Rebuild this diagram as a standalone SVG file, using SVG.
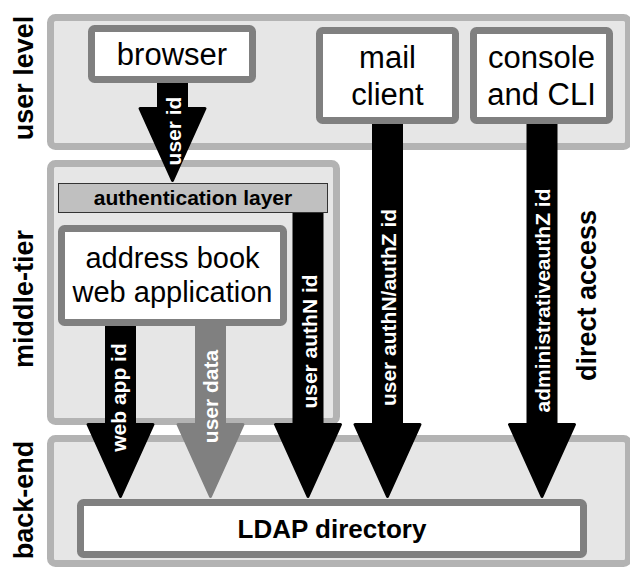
<svg xmlns="http://www.w3.org/2000/svg" width="630" height="568" viewBox="0 0 630 568">
<style>
.panel{fill:#e6e6e6;stroke:#b3b3b3;stroke-width:7}
.box{fill:#ffffff;stroke:#808080;stroke-width:7}
.t{font-family:"Liberation Sans",Arial,sans-serif;fill:#000;text-anchor:middle}
.big{font-size:31px}
.mid{font-size:29px}
.side{font-family:"Liberation Sans",Arial,sans-serif;font-weight:bold;font-size:27px;text-anchor:middle;fill:#000}
.arr{fill:#000;stroke:#000;stroke-width:3;stroke-linejoin:round}
.arrg{fill:#808080;stroke:#808080;stroke-width:3;stroke-linejoin:round}
.lab{font-family:"Liberation Sans",Arial,sans-serif;font-weight:bold;font-size:21px;fill:#fff;text-anchor:middle}
</style>
<rect width="630" height="568" fill="#fff"/>
<g id="panel-user-level">
<rect class="panel" x="50.5" y="17.5" width="578" height="129" rx="5"/>
<text class="side" transform="translate(33,78) rotate(-90)">user level</text>
</g>
<g id="panel-middle-tier">
<rect class="panel" x="50.5" y="163.5" width="286" height="258" rx="5"/>
<text class="side" transform="translate(33,299) rotate(-90)">middle-tier</text>
</g>
<g id="panel-back-end">
<rect class="panel" x="50.5" y="438.5" width="578" height="125" rx="5"/>
<text class="side" transform="translate(33,500) rotate(-90)">back-end</text>
</g>
<g id="connectors">
<path class="arr" d="M158.5,80 H186.5 V108.5 H205 L172.5,180.5 L140,108.5 H158.5 Z"/>
<text class="lab" transform="translate(181,131) rotate(-90)">user id</text>
<path class="arr" d="M106.5,323 H134.5 V424.5 H153 L120.5,496.5 L88,424.5 H106.5 Z"/>
<text class="lab" transform="translate(126,397.5) rotate(-90)">web app id</text>
<path class="arrg" d="M196.5,323 H224.5 V424.5 H243 L210.5,496.5 L178,424.5 H196.5 Z"/>
<text class="lab" transform="translate(218,396.5) rotate(-90)">user data</text>
<path class="arr" d="M294,210 H322 V424.5 H340.5 L308,496.5 L275.5,424.5 H294 Z"/>
<text class="lab" transform="translate(317,341.5) rotate(-90)">user authN id</text>
<path class="arr" d="M373.5,120 H401.5 V424.5 H420 L387.5,496.5 L355,424.5 H373.5 Z"/>
<text class="lab" transform="translate(395.5,307.5) rotate(-90)">user authN/authZ id</text>
<path class="arr" d="M528,120 H556 V424.5 H574.5 L542,496.5 L509.5,424.5 H528 Z"/>
<text class="lab" transform="translate(550,300.5) rotate(-90)">administrativeauthZ id</text>
</g>
<g id="label-direct-access">
<text class="side" transform="translate(596,295.5) rotate(-90)" font-size="26">direct access</text>
</g>
<g id="node-browser">
<rect class="box" x="91.5" y="28.5" width="161" height="51" rx="3"/>
<text class="t big" x="172" y="65">browser</text>
</g>
<g id="node-mail-client">
<rect class="box" x="319.5" y="30.5" width="136" height="90" rx="3"/>
<text class="t big" x="387.5" y="68">mail</text>
<text class="t big" x="387.5" y="105">client</text>
</g>
<g id="node-console">
<rect class="box" x="473.5" y="30.5" width="136" height="90" rx="3"/>
<text class="t big" x="541.5" y="68">console</text>
<text class="t big" x="541.5" y="105">and CLI</text>
</g>
<g id="node-auth-layer">
<rect x="58.5" y="183.5" width="269" height="29" fill="#c0c0c0" stroke="#333" stroke-width="1"/>
<text class="t" x="193" y="205" font-size="21" font-weight="bold">authentication layer</text>
</g>
<g id="node-address-book">
<rect class="box" x="61.5" y="228.5" width="222" height="94" rx="3"/>
<text class="t mid" x="172.5" y="268">address book</text>
<text class="t mid" x="172.5" y="302">web application</text>
</g>
<g id="node-ldap">
<rect class="box" x="80.5" y="502.5" width="503" height="52" rx="3"/>
<text class="t" x="332" y="538" font-size="26" font-weight="bold">LDAP directory</text>
</g>
</svg>
